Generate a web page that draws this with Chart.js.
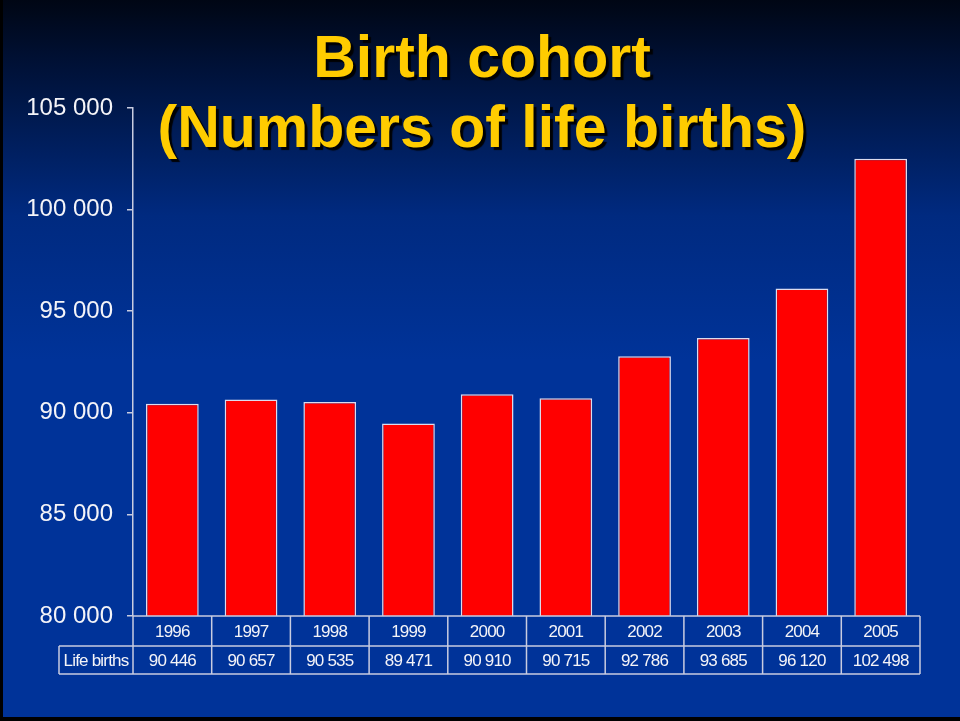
<!DOCTYPE html>
<html>
<head>
<meta charset="utf-8">
<script src="https://cdn.jsdelivr.net/npm/chart.js@4.4.1/dist/chart.umd.min.js"></script>
<style>
  html, body { margin: 0; padding: 0; background: #003399; }
  #wrap { width: 960px; height: 721px; }
</style>
</head>
<body>
<div id="wrap"><canvas id="births"></canvas></div>
<script>
const years = ['1996', '1997', '1998', '1999', '2000', '2001', '2002', '2003', '2004', '2005'];
const lifeBirths = [90446, 90657, 90535, 89471, 90910, 90715, 92786, 93685, 96120, 102498];
const rowLabel = 'Life births';
const titleLines = ['Birth cohort', '(Numbers of life births)'];

const FONT = '"Liberation Sans", Arial, sans-serif';
const LINE = '#c8cce0';

function spaced(n) {
    return String(n).replace(/\B(?=(\d{3})+(?!\d))/g, ' ');
}

// slide background, drawn under everything
const slideBg = {
    id: 'slideBg',
    beforeDraw(chart) {
        const ctx = chart.ctx;
        const g = ctx.createLinearGradient(0, 0, 0, 721);
        g.addColorStop(0, '#000614');
        g.addColorStop(0.08, '#001033');
        g.addColorStop(0.3, '#002a80');
        g.addColorStop(0.5, '#003399');
        g.addColorStop(1, '#003399');
        ctx.save();
        ctx.fillStyle = g;
        ctx.fillRect(0, 0, chart.width, chart.height);
        ctx.fillStyle = '#000000';
        ctx.fillRect(0, 0, 3, chart.height);
        ctx.fillRect(0, chart.height - 4, chart.width, 4);
        ctx.restore();
    }
};

// data table under the bars
const dataTable = {
    id: 'dataTable',
    afterDraw(chart) {
        const ctx = chart.ctx;
        const x = chart.scales.x;
        const area = chart.chartArea;
        const cw = x.getPixelForValue(1) - x.getPixelForValue(0);
        const top = area.bottom;
        const r1 = top + 30;
        const r2 = r1 + 28;
        const left = area.left;
        const right = area.right;
        const labelLeft = left - 74;

        ctx.save();
        ctx.strokeStyle = LINE;
        ctx.lineWidth = 1.5;
        ctx.beginPath();
        ctx.moveTo(left, top); ctx.lineTo(right, top);
        ctx.moveTo(labelLeft, r1); ctx.lineTo(right, r1);
        ctx.moveTo(labelLeft, r2); ctx.lineTo(right, r2);
        ctx.moveTo(labelLeft, r1); ctx.lineTo(labelLeft, r2);
        ctx.moveTo(left, top); ctx.lineTo(left, r2);
        years.forEach((y, i) => {
            const xr = x.getPixelForValue(i) + cw / 2;
            ctx.moveTo(xr, top); ctx.lineTo(xr, r2);
        });
        ctx.stroke();

        ctx.fillStyle = '#f4f4f8';
        ctx.font = '17px ' + FONT;
        ctx.letterSpacing = '-0.8px';
        ctx.textAlign = 'center';
        ctx.textBaseline = 'middle';
        years.forEach((y, i) => {
            const cx = x.getPixelForValue(i);
            ctx.fillText(y, cx, (top + r1) / 2 + 1);
            ctx.fillText(spaced(lifeBirths[i]), cx, (r1 + r2) / 2 + 1);
        });
        ctx.fillText(rowLabel, (labelLeft + left) / 2, (r1 + r2) / 2 + 1);
        ctx.restore();
    }
};

// slide title with drop shadow, laid over the plot
const slideTitle = {
    id: 'slideTitle',
    afterDraw(chart) {
        const ctx = chart.ctx;
        ctx.save();
        ctx.font = 'bold 59px ' + FONT;
        ctx.textAlign = 'center';
        ctx.textBaseline = 'alphabetic';
        ctx.shadowColor = 'rgba(0,0,0,0.95)';
        ctx.shadowOffsetX = 3;
        ctx.shadowOffsetY = 3;
        ctx.shadowBlur = 1;
        ctx.fillStyle = '#ffcc00';
        ctx.fillText(titleLines[0], 482, 77);
        ctx.fillText(titleLines[1], 482, 147);
        ctx.restore();
    }
};

const ctx = document.getElementById('births').getContext('2d');
new Chart(ctx, {
    type: 'bar',
    data: {
        labels: years,
        datasets: [{
            label: rowLabel,
            data: lifeBirths,
            backgroundColor: '#ff0000',
            borderColor: '#dcdcee',
            borderWidth: 1.5,
            barPercentage: 0.67,
            categoryPercentage: 1
        }]
    },
    options: {
        responsive: true,
        maintainAspectRatio: false,
        animation: false,
        layout: {
            padding: { top: 108, bottom: 105, right: 40, left: 0 }
        },
        scales: {
            x: {
                display: false
            },
            y: {
                min: 80000,
                max: 105000,
                afterFit(scale) { scale.width = 133; },
                border: { display: true, color: LINE, width: 1.5 },
                grid: {
                    drawOnChartArea: false,
                    drawTicks: true,
                    tickLength: 6,
                    color: LINE,
                    lineWidth: 1.5
                },
                ticks: {
                    stepSize: 5000,
                    padding: 14,
                    color: '#f4f4f8',
                    font: { family: FONT, size: 24 },
                    callback: v => spaced(v)
                }
            }
        },
        plugins: {
            legend: { display: false },
            title: { display: false },
            tooltip: { enabled: false }
        }
    },
    plugins: [slideBg, dataTable, slideTitle]
});
</script>
</body>
</html>
